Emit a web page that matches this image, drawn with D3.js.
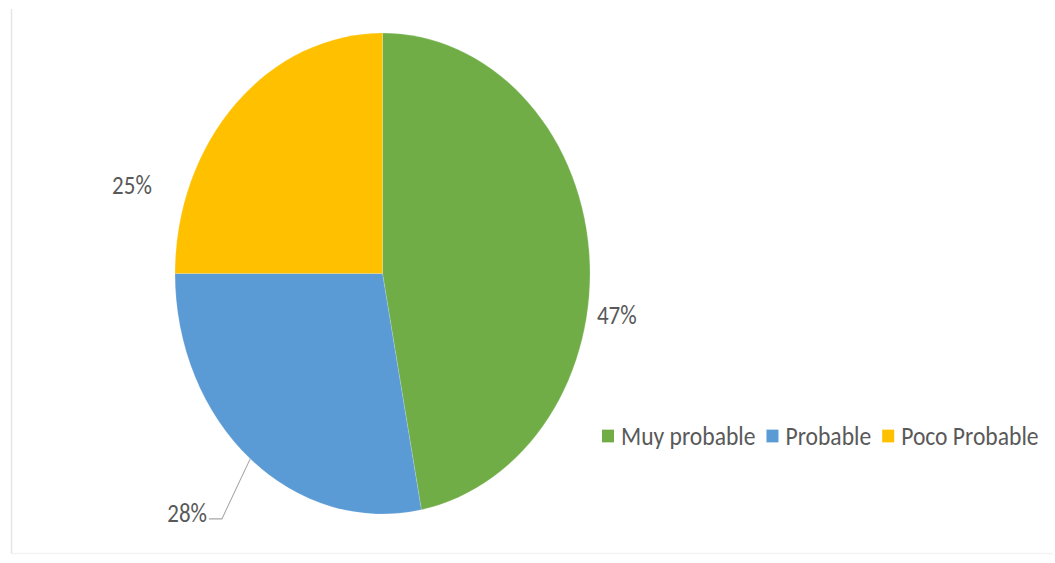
<!DOCTYPE html>
<html>
<head>
<meta charset="utf-8">
<script src="https://cdn.jsdelivr.net/npm/d3@7"></script>
<style>
  body { margin: 0; background: #ffffff; }
  svg { display: block; }
  text { font-family: Carlito, Calibri, "Liberation Sans Narrow", "Open Sans", sans-serif; fill: #595959; }
</style>
</head>
<body>
<svg id="chart" width="1055" height="563"></svg>
<script>
// Survey answers: share of respondents per likelihood level
const categories = ["Muy probable", "Probable", "Poco Probable"];
const values = [47, 28, 25];
const colors = ["#70AD47", "#5B9BD5", "#FFC000"];

const W = 1055, H = 563;
const stretch = 1.159;            // chart is drawn taller than wide
const cx = 382.5, cy = 236, radius = 207.5;
const fontSize = 23;

const svg = d3.select("#chart");

// faint frame of the chart area
svg.append("path")
  .attr("d", `M11.5,9 V553.5`)
  .attr("fill", "none")
  .attr("stroke", "#e6e6e6")
  .attr("stroke-width", 1.5);
svg.append("path")
  .attr("d", `M12,553.5 H1053`)
  .attr("fill", "none")
  .attr("stroke", "#f3f3f3")
  .attr("stroke-width", 1.5);

const g = svg.append("g").attr("transform", `scale(1,${stretch})`);

const pie = d3.pie().sort(null).value(d => d);
const slices = pie(values);
const arc = d3.arc().innerRadius(0).outerRadius(radius);

const pieG = g.append("g").attr("transform", `translate(${cx},${cy})`);
pieG.selectAll("path.slice")
  .data(slices)
  .join("path")
  .attr("class", "slice")
  .attr("d", arc)
  .attr("fill", (d, i) => colors[i])
  .attr("stroke", "#ffffff")
  .attr("stroke-opacity", 0.25)
  .attr("stroke-width", 0.6);

// polar helper: angle measured clockwise from 12 o'clock
const polar = (a, r) => [Math.sin(a) * r, -Math.cos(a) * r];
const deg = d => d * Math.PI / 180;

// label placement around the rim (angle in degrees, distance from centre)
const labelPlace = [
  { angle: 98.7, dist: 237 },
  { angle: 223.4, dist: 284.4, leader: true },
  { angle: 287, dist: 262 }
];

const fmt = d3.format(".0%");
const total = d3.sum(values);

slices.forEach((s, i) => {
  const p = labelPlace[i];
  const [x, y] = polar(deg(p.angle), p.dist);
  const t = pieG.append("text")
    .attr("x", x)
    .attr("y", y)
    .attr("text-anchor", "middle")
    .attr("dominant-baseline", "central")
    .attr("font-size", fontSize)
    .text(fmt(s.data / total));
  if (p.leader) {
    const w = t.node().getComputedTextLength();
    const mid = (s.startAngle + s.endAngle) / 2;
    const [rx, ry] = polar(mid, radius);
    const endX = x + w / 2 + 2;
    const lineY = y + 5;
    pieG.append("path")
      .attr("d", `M${rx},${ry} L${endX + 13},${lineY} L${endX},${lineY}`)
      .attr("fill", "none")
      .attr("stroke", "#a6a6a6")
      .attr("stroke-width", 1);
  }
});

// legend, laid out left to right
const legend = g.append("g").attr("transform", `translate(602,${436 / stretch})`);
let lx = 0;
categories.forEach((c, i) => {
  legend.append("rect")
    .attr("x", lx)
    .attr("y", -5.5)
    .attr("width", 12)
    .attr("height", 11)
    .attr("fill", colors[i]);
  const t = legend.append("text")
    .attr("x", lx + 19)
    .attr("y", 0)
    .attr("dominant-baseline", "central")
    .attr("font-size", 23.6)
    .text(c);
  lx += 19 + t.node().getComputedTextLength() + 11;
});
</script>
</body>
</html>
